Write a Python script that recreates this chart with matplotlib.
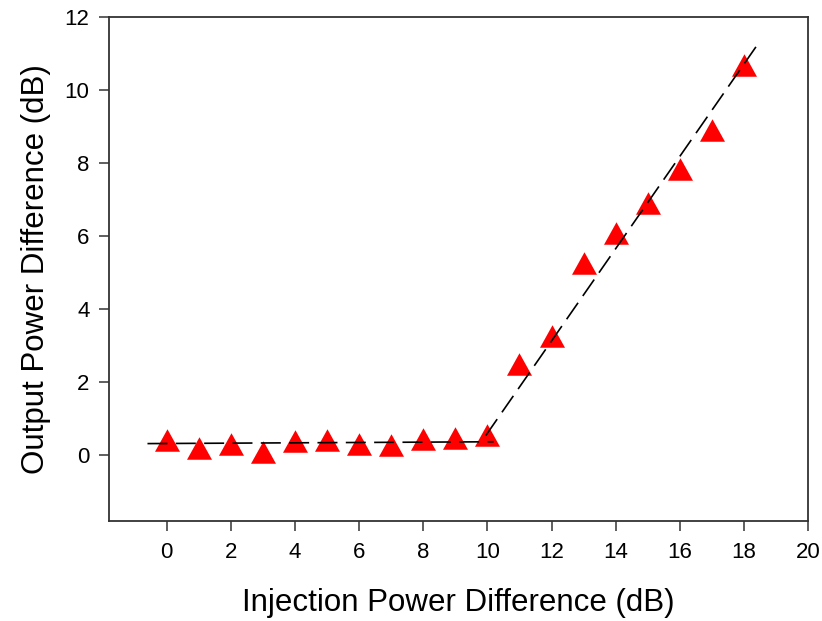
import matplotlib
matplotlib.use("Agg")
import matplotlib.pyplot as plt
import numpy as np

plt.rcParams["font.family"] = ["Liberation Sans", "DejaVu Sans"]

# measured points
inj_diff = [0, 1, 2, 3, 4, 5, 6, 7, 8, 9, 10, 11, 12, 13, 14, 15, 16, 17, 18]
out_diff = [0.43, 0.21, 0.30, 0.10, 0.40, 0.42, 0.31, 0.27, 0.45, 0.48, 0.56,
            2.49, 3.26, 5.27, 6.08, 6.90, 7.84, 8.90, 10.68]

# fitted segments (endpoints)
flat_x = [-0.6, 10.2]
flat_y = [0.32, 0.37]
slope_x = [9.95, 18.5]
slope_y = [0.54, 11.34]

fig = plt.figure(figsize=(8.22, 6.21), dpi=100)
ax = fig.add_axes([0.1326, 0.161, 0.8504, 0.8116])

tri = [(-1.0, -0.9), (1.0, -0.9), (0.0, 0.9)]
ax.plot(inj_diff, out_diff, linestyle="none", marker=tri, markersize=18,
        color="#ff0000", markeredgewidth=0, zorder=2)

ax.plot(flat_x, flat_y, color="black", lw=1.2, dashes=(12, 5), zorder=3)
ax.plot(slope_x, slope_y, color="black", lw=1.2, dashes=(12, 5), zorder=3)

ax.set_xlim(-1.8, 20)
ax.set_ylim(-1.8, 12)
ax.set_xticks(np.arange(0, 21, 2))
ax.set_yticks(np.arange(0, 13, 2))
ax.tick_params(direction="out", length=7, width=1.1, labelsize=16, color="#333333")
ax.tick_params(axis="x", pad=8)
ax.tick_params(axis="y", pad=7)
for s in ax.spines.values():
    s.set_linewidth(1.3)
    s.set_color("#333333")

ax.set_xlabel("Injection Power Difference (dB)", fontsize=22.5, labelpad=18)
ax.set_ylabel("Output Power Difference (dB)", fontsize=22.5, labelpad=10)

fig.savefig("out.png", dpi=100)
